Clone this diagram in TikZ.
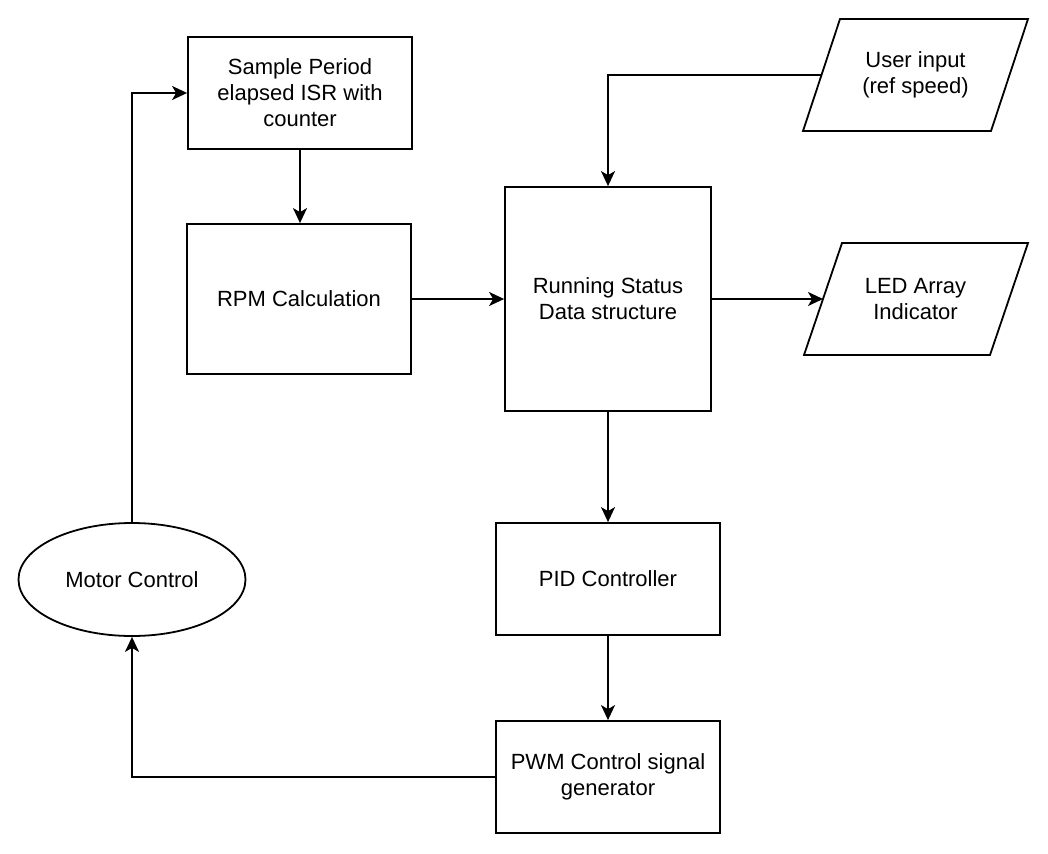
\documentclass[tikz,border=0pt]{standalone}
\usepackage{fontspec}
\setmainfont{Liberation Sans}
\usetikzlibrary{shapes.geometric,arrows.meta}
\begin{document}
\begin{tikzpicture}[x=1pt,y=-1pt,
  every node/.style={font=\fontsize{22}{26}\selectfont, align=center, inner sep=0pt},
  box/.style={draw, line width=1.8pt, rectangle},
  shape line/.style={draw, line width=1.8pt, line join=miter},
  oval/.style={draw, line width=1.8pt, ellipse, minimum width=227, minimum height=113},
  arr/.style={draw, line width=1.8pt, -{Stealth[length=15pt,width=14pt,inset=4pt]}}]
\useasboundingbox (0,0) rectangle (1048,853);
\node[box, minimum width=224, minimum height=112] (sample) at (300,93) {Sample Period\\elapsed ISR with\\counter};
\node[box, minimum width=224, minimum height=150] (rpm) at (299,299) {RPM Calculation};
\node[box, minimum width=206, minimum height=224] (run) at (608,299) {Running Status\\Data structure};
\node[box, minimum width=224, minimum height=112] (pid) at (608,579) {PID Controller};
\node[box, minimum width=224, minimum height=112] (pwm) at (608,777) {PWM Control signal\\generator};
\node[oval] (motor) at (132,579.5) {Motor Control};
% parallelograms
\node (user) at (915.5,75) {User input\\(ref speed)};
\draw[shape line] (803,131) -- (840,19) -- (1028,19) -- (991,131) -- cycle;
\coordinate (userin) at (821.5,75);
\node (led) at (915.5,299) {LED Array\\Indicator};
\draw[shape line] (804,355) -- (842,243) -- (1028,243) -- (990,355) -- cycle;
\coordinate (ledin) at (823,299);
\draw[arr] (motor.north) |- (sample.west);
\draw[arr] (sample.south) -- (sample.south |- rpm.north);
\draw[arr] (rpm.east) -- (run.west);
\draw[arr] (userin) -| (run.north);
\draw[arr] (run.east) -- (ledin);
\draw[arr] (run.south) -- (pid.north);
\draw[arr] (pid.south) -- (pwm.north);
\draw[arr] (pwm.west) -| (motor.south);
\end{tikzpicture}
\end{document}
